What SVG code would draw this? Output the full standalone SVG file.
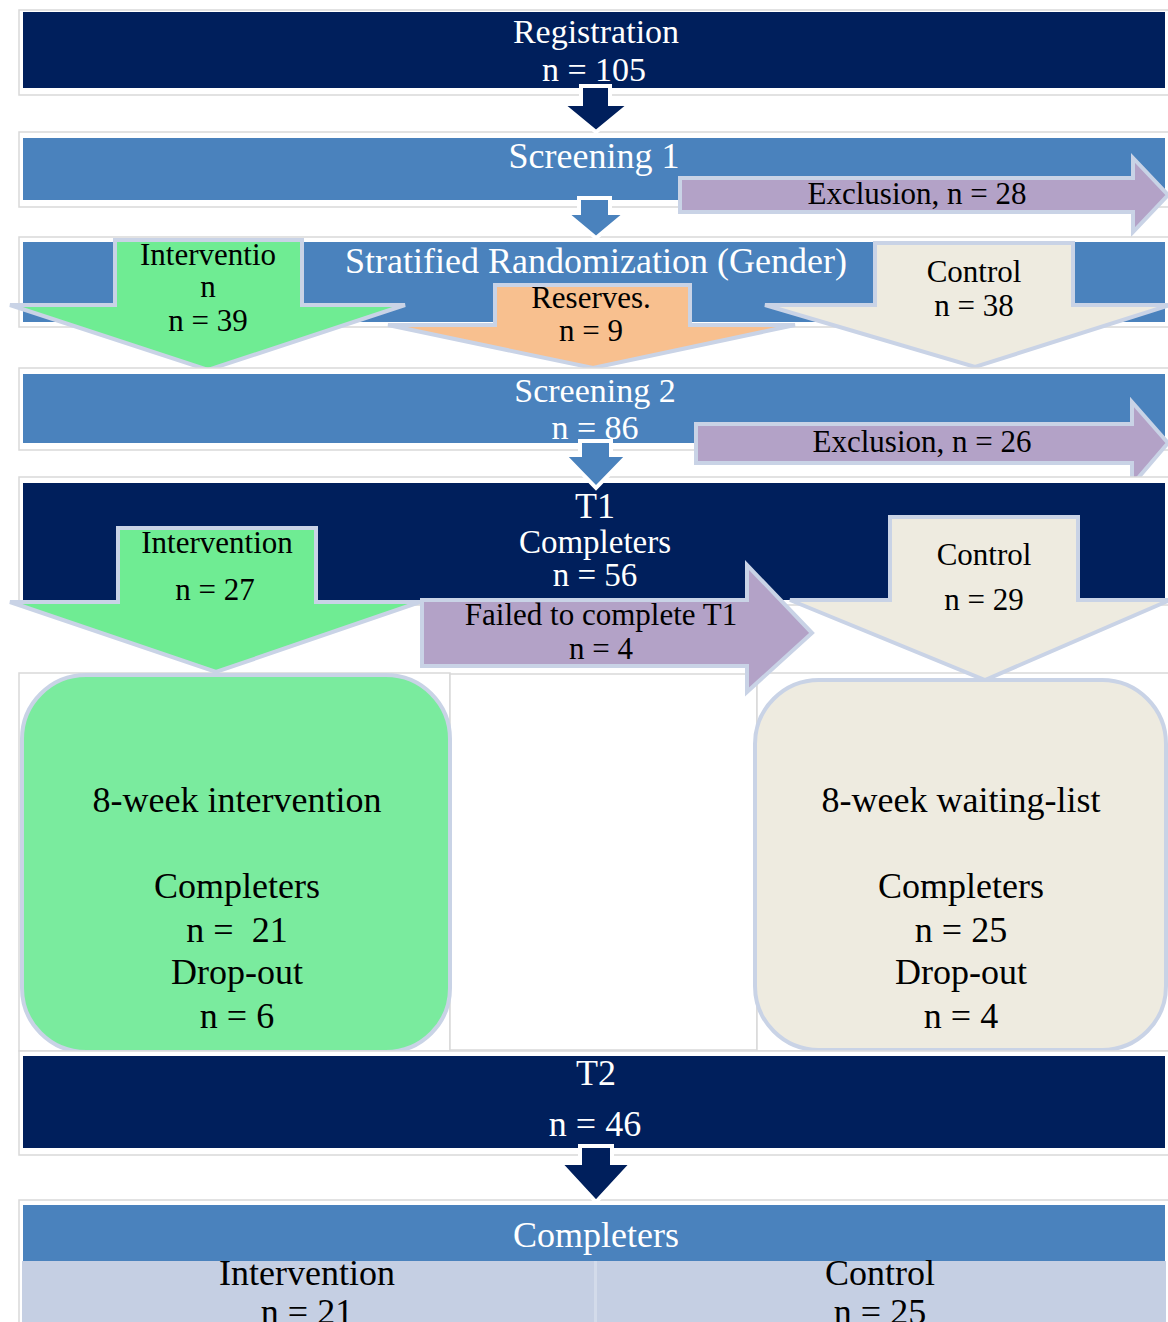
<svg xmlns="http://www.w3.org/2000/svg" width="1168" height="1322" viewBox="0 0 1168 1322">
<style>
text{font-family:"Liberation Serif","Times New Roman",serif;text-anchor:middle;white-space:pre}
.w{fill:#ffffff}
.k{fill:#000000}
.b{font-size:36px}
.b2{font-size:34px}
.a{font-size:31px}
.x{font-size:36px}
.frame{fill:#ffffff;stroke:#d9d9d9;stroke-width:1.5}
.navy{fill:#001f5c}
.blue{fill:#4a82bd}
.lilac{fill:#b3a2c7;stroke:#c9d3e6;stroke-width:4}
.green{fill:#6fec93;stroke:#c9d3e6;stroke-width:4}
.orange{fill:#f8c08f;stroke:#c9d3e6;stroke-width:4}
.beige{fill:#eeebe0;stroke:#c9d3e6;stroke-width:4}
.conn{stroke:#ffffff;stroke-width:4;stroke-linejoin:miter}
</style>

<g id="registration">
<rect class="frame" x="19" y="10" width="1152" height="85"/>
<rect class="navy" x="23" y="12" width="1142" height="76"/>
<text class="w b2" x="596" y="43">Registration</text>
<text class="w b2" x="594" y="81">n = 105</text>
</g>

<g id="screening1">
<rect class="frame" x="19" y="132" width="1152" height="75"/>
<rect class="blue" x="23" y="138" width="1142" height="62"/>
<text class="w b" x="594" y="168">Screening 1</text>
</g>

<g id="exclusion1">
<polygon class="lilac" points="680,178 1133,178 1133,158 1168,195 1133,232 1133,212 680,212"/>
<text class="k a" x="917" y="204">Exclusion, n = 28</text>
</g>

<g id="randomization">
<rect class="frame" x="19" y="237" width="1152" height="90"/>
<rect class="blue" x="23" y="242" width="1142" height="80"/>
<text class="w b" x="596" y="273">Stratified Randomization (Gender)</text>
</g>

<g id="reserves">
<polygon class="orange" points="495,285 690,285 690,325 795,325 593,368 388,325 495,325"/>
<text class="k a" x="591" y="308">Reserves.</text>
<text class="k a" x="591" y="341">n = 9</text>
</g>

<g id="intervention1">
<polygon class="green" points="115,240 302,240 302,305 405,305 208,370 10,305 115,305"/>
<text class="k a" x="208" y="265">Interventio</text>
<text class="k a" x="208" y="297">n</text>
<text class="k a" x="208" y="331">n = 39</text>
</g>

<g id="control1">
<polygon class="beige" points="875,243 1073,243 1073,305 1170,305 975,367 765,305 875,305"/>
<text class="k a" x="974" y="282">Control</text>
<text class="k a" x="974" y="316">n = 38</text>
</g>

<g id="screening2">
<rect class="frame" x="19" y="368" width="1152" height="82"/>
<rect class="blue" x="23" y="374" width="1142" height="69"/>
<text class="w b2" x="595" y="402">Screening 2</text>
<text class="w b2" x="595" y="439">n = 86</text>
</g>

<g id="exclusion2">
<polygon class="lilac" points="696,424 1132,424 1132,402 1168,443 1132,485 1132,463 696,463"/>
<text class="k a" x="922" y="452">Exclusion, n = 26</text>
</g>

<g id="t1">
<rect class="frame" x="19" y="477" width="1152" height="128"/>
<rect class="navy" x="23" y="483" width="1142" height="117"/>
<text class="w b" x="595" y="518">T1</text>
<text class="w" style="font-size:33px" x="595" y="553">Completers</text>
<text class="w" style="font-size:33px" x="595" y="586">n = 56</text>
</g>

<g id="middle-frame">
<rect class="frame" x="19" y="673" width="431" height="378"/>
<rect class="frame" x="450" y="674" width="307" height="376"/>
<rect class="frame" x="757" y="673" width="414" height="378"/>
</g>

<g id="failed-t1">
<polygon class="lilac" points="422,600 747,600 747,565 812,633 747,692 747,666 422,666"/>
<text class="k a" x="601" y="625">Failed to complete T1</text>
<text class="k a" x="601" y="659">n = 4</text>
</g>

<g id="intervention2">
<polygon class="green" points="118,528 316,528 316,602 420,602 216,672 10,602 118,602"/>
<text class="k a" x="217" y="553">Intervention</text>
<text class="k a" x="215" y="600">n = 27</text>
</g>

<g id="control2">
<polygon class="beige" points="890,517 1078,517 1078,600 1170,600 985,680 790,600 890,600"/>
<text class="k a" x="984" y="565">Control</text>
<text class="k a" x="984" y="610">n = 29</text>
</g>

<g id="intervention-box">
<rect x="22" y="675" width="428" height="377" rx="64" ry="64" fill="#7aeb9e" stroke="#c9d3e6" stroke-width="4"/>
<text class="k x" x="237" y="812">8-week intervention</text>
<text class="k x" x="237" y="898">Completers</text>
<text class="k x" x="237" y="942">n =  21</text>
<text class="k x" x="237" y="984">Drop-out</text>
<text class="k x" x="237" y="1028">n = 6</text>
</g>

<g id="waitinglist-box">
<rect x="755" y="680" width="411" height="370" rx="64" ry="64" fill="#eeebe0" stroke="#c9d3e6" stroke-width="4"/>
<text class="k x" x="961" y="812">8-week waiting-list</text>
<text class="k x" x="961" y="898">Completers</text>
<text class="k x" x="961" y="942">n = 25</text>
<text class="k x" x="961" y="984">Drop-out</text>
<text class="k x" x="961" y="1028">n = 4</text>
</g>

<g id="t2">
<rect class="frame" x="19" y="1051" width="1152" height="104"/>
<rect class="navy" x="23" y="1056" width="1142" height="92"/>
<text class="w b" x="596" y="1085">T2</text>
<text class="w b" x="595" y="1136">n = 46</text>
</g>

<g id="completers">
<rect class="frame" x="19" y="1200" width="1152" height="130"/>
<rect class="blue" x="23" y="1205" width="1142" height="56"/>
<rect x="22" y="1261" width="572" height="62" fill="#c5cfe3"/>
<rect x="597" y="1261" width="569" height="62" fill="#c5cfe3"/>
<line x1="595.5" y1="1261" x2="595.5" y2="1322" stroke="#d3dbea" stroke-width="3"/>
<text class="w b" x="596" y="1247">Completers</text>
<text class="k b" x="307" y="1285">Intervention</text>
<text class="k b" x="307" y="1324">n = 21</text>
<text class="k b" x="880" y="1285">Control</text>
<text class="k b" x="880" y="1324">n = 25</text>
</g>

<g id="connectors">
<polygon class="conn" fill="#001f5c" points="581,86 610,86 610,104 630,104 596,132 562,104 581,104"/>
<polygon class="conn" fill="#4a82bd" points="579,198 610,198 610,213 626,213 596,238 566,213 579,213"/>
<polygon class="conn" fill="#4a82bd" points="580,441 611,441 611,455 628,455 596,488 564,455 580,455"/>
<polygon class="conn" fill="#001f5c" points="580,1146 612,1146 612,1163 632,1163 596,1202 560,1163 580,1163"/>
</g>
</svg>
